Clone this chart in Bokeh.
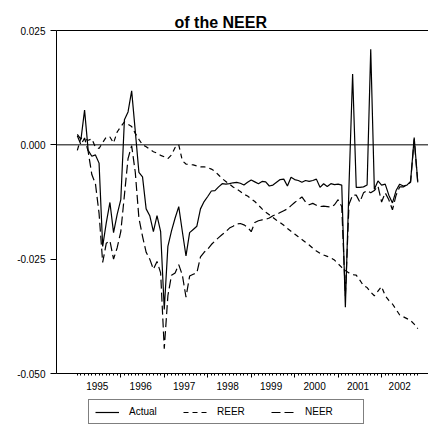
from bokeh.plotting import figure
from bokeh.layouts import column
from bokeh.models import (Range1d, LinearAxis, FixedTicker, Span, Legend, LegendItem,
                          ColumnDataSource)
from bokeh.embed import file_html
from bokeh.resources import INLINE

# ---- data (monthly, index 0 = Jan 1995) ----
months = list(range(95))
actual = [
    0.0023, 0.0012, 0.0076, -0.0012, -0.0025, -0.0022, -0.0040, -0.0222, -0.0170, -0.0126,
    -0.0192, -0.0152, -0.0120, 0.0055, 0.0072, 0.0118, 0.0030, -0.0060, -0.0070, -0.0140,
    -0.0155, -0.0190, -0.0155, -0.0190, -0.0360, -0.0222, -0.0188, -0.0160, -0.0135, -0.0190,
    -0.0243, -0.0192, -0.0185, -0.0178, -0.0140, -0.0124, -0.0113, -0.0101, -0.0100, -0.0092,
    -0.0085, -0.0086, -0.0085, -0.0083, -0.0082, -0.0084, -0.0088, -0.0082, -0.0077, -0.0081,
    -0.0085, -0.0080, -0.0081, -0.0090, -0.0088, -0.0082, -0.0076, -0.0075, -0.0090, -0.0071,
    -0.0076, -0.0078, -0.0082, -0.0078, -0.0080, -0.0078, -0.0075, -0.0093, -0.0085, -0.0091,
    -0.0085, -0.0087, -0.0086, -0.0088, -0.0355, -0.0090, 0.0155, -0.0093, -0.0093, -0.0092,
    -0.0088, 0.0209, -0.0097, -0.0079, -0.0088, -0.0086, -0.0110, -0.0127, -0.0100, -0.0086,
    -0.0090, -0.0088, -0.0080, 0.0016, -0.0082,
]
reer = [
    -0.0012, 0.0015, 0.0012, 0.0010, 0.0013, -0.0005, -0.0008, 0.0005, 0.0017, 0.0017,
    0.0004, 0.0028, 0.0040, 0.0050, 0.0045, 0.0040, 0.0025, 0.0012, 0.0000, -0.0004,
    -0.0010, -0.0015, -0.0018, -0.0023, -0.0026, -0.0030, -0.0022, -0.0006, 0.0000, -0.0035,
    -0.0042, -0.0043, -0.0044, -0.0046, -0.0048, -0.0048, -0.0050, -0.0053, -0.0058, -0.0066,
    -0.0074, -0.0080, -0.0086, -0.0092, -0.0097, -0.0102, -0.0108, -0.0112, -0.0118, -0.0124,
    -0.0132, -0.0140, -0.0147, -0.0153, -0.0159, -0.0165, -0.0170, -0.0176, -0.0183, -0.0189,
    -0.0195, -0.0201, -0.0207, -0.0213, -0.0219, -0.0226, -0.0232, -0.0237, -0.0241, -0.0244,
    -0.0247, -0.0252, -0.0260, -0.0268, -0.0275, -0.0280, -0.0284, -0.0285, -0.0296, -0.0308,
    -0.0312, -0.0322, -0.0330, -0.0320, -0.0310, -0.0330, -0.0340, -0.0348, -0.0360, -0.0372,
    -0.0376, -0.0380, -0.0384, -0.0392, -0.0402,
]
neer = [
    0.0020, 0.0000, 0.0015, -0.0015, -0.0065, -0.0085, -0.0150, -0.0257, -0.0215, -0.0210,
    -0.0250, -0.0225, -0.0190, -0.0110, -0.0030, -0.0002, -0.0060, -0.0160, -0.0200, -0.0235,
    -0.0250, -0.0272, -0.0255, -0.0280, -0.0446, -0.0330, -0.0285, -0.0280, -0.0262, -0.0285,
    -0.0333, -0.0287, -0.0283, -0.0280, -0.0245, -0.0235, -0.0228, -0.0218, -0.0210, -0.0203,
    -0.0196, -0.0190, -0.0182, -0.0178, -0.0173, -0.0172, -0.0175, -0.0180, -0.0190, -0.0170,
    -0.0166, -0.0164, -0.0163, -0.0160, -0.0155, -0.0152, -0.0148, -0.0144, -0.0140, -0.0133,
    -0.0126, -0.0120, -0.0114, -0.0125, -0.0131, -0.0128, -0.0132, -0.0135, -0.0134, -0.0135,
    -0.0136, -0.0131, -0.0120, -0.0135, -0.0330, -0.0130, -0.0110, -0.0110, -0.0125, -0.0105,
    -0.0100, -0.0105, -0.0100, -0.0090, -0.0125, -0.0105, -0.0120, -0.0142, -0.0110, -0.0092,
    -0.0092, -0.0088, -0.0082, 0.0012, -0.0085,
]
series_names = ["Actual", "REER", "NEER"]
year_labels = ["1995", "1996", "1997", "1998", "1999", "2000", "2001", "2002"]
year_label_pos = [5.5, 17.5, 29.5, 41.5, 53.5, 65.5, 77.5, 89.0]
year_starts = [12, 24, 36, 48, 60, 72, 84]
y_ticks = [0.025, 0.0, -0.025, -0.05]
y_tick_labels = ["0.025", "0.000", "-0.025", "-0.050"]

FONT = "Liberation Sans"

p = figure(width=428, height=395, output_backend="svg", toolbar_location=None,
           x_range=Range1d(-5.75, 96.95), y_range=Range1d(-0.050, 0.025),
           x_axis_type=None, min_border_left=56, min_border_right=0,
           min_border_top=30, min_border_bottom=22)
p.outline_line_color = None
p.background_fill_color = "white"
p.border_fill_color = "white"
p.grid.visible = False

# top frame line (axis without ticks/labels) - also lifts the title a little
ax_top = LinearAxis(ticker=FixedTicker(ticks=[]), axis_line_color="black",
                    major_tick_out=5, major_tick_in=0, major_tick_line_color=None,
                    minor_tick_line_color=None, major_label_text_font_size="0px",
                    major_label_standoff=0)
p.add_layout(ax_top, "above")

# title
p.title.text = "of the NEER"
p.title.text_font = FONT
p.title.text_font_style = "bold"
p.title.text_font_size = "16px"
p.title.align = "left"
p.title.offset = 118
p.title.standoff = 0
p.title.text_color = "black"

# y axis
ya = p.yaxis[0]
ya.ticker = FixedTicker(ticks=y_ticks)
ya.major_label_overrides = dict(zip(y_ticks, y_tick_labels))
ya.major_tick_out = 6
ya.major_tick_in = 0
ya.minor_tick_line_color = None
ya.axis_line_color = "black"
ya.major_tick_line_color = "black"
ya.major_label_text_font = FONT
ya.major_label_text_font_size = "10px"
ya.major_label_text_color = "black"
ya.major_label_standoff = 5

# x axis: tick marks (year boundaries major, months minor)
ax_ticks = LinearAxis(ticker=FixedTicker(ticks=year_starts, minor_ticks=months),
                      major_label_overrides={t: "" for t in year_starts},
                      major_label_text_font_size="0px", major_label_standoff=0,
                      major_tick_out=4, major_tick_in=0, minor_tick_out=2, minor_tick_in=0,
                      axis_line_color="black", major_tick_line_color="black",
                      minor_tick_line_color="black")
p.add_layout(ax_ticks, "below")
# x axis: year labels centred in each year
ax_labels = LinearAxis(ticker=FixedTicker(ticks=year_label_pos),
                       major_label_overrides=dict(zip(year_label_pos, year_labels)),
                       axis_line_color=None, major_tick_line_color=None,
                       minor_tick_line_color=None, major_tick_out=0, major_tick_in=0,
                       major_label_standoff=4, major_label_text_font=FONT,
                       major_label_text_font_size="10px", major_label_text_color="black")
p.add_layout(ax_labels, "below")

p.add_layout(Span(location=0.0, dimension="width", line_color="black", line_width=1))

src = ColumnDataSource(dict(m=months, actual=actual, reer=reer, neer=neer))
styles = [dict(), dict(line_dash="5 4"), dict(line_dash="9 4")]
cols = ["actual", "reer", "neer"]
for c, st in zip(cols, styles):
    p.line("m", c, source=src, line_color="black", line_width=1.2, **st)

# ---- legend strip (separate small figure below the chart) ----
lg = figure(width=428, height=35, output_backend="svg", toolbar_location=None,
            x_range=Range1d(1000, 1001), y_range=Range1d(1000, 1001),
            x_axis_type=None, y_axis_type=None, min_border=0)
lg.outline_line_color = None
lg.grid.visible = False
items = []
for c, st, name in zip(cols, styles, series_names):
    r = lg.line("m", c, source=src, line_color="black", line_width=1.2, **st)
    items.append(LegendItem(label=name, renderers=[r]))

legend = Legend(items=items, orientation="horizontal", location=(32, 6),
                border_line_color="black", border_line_width=1,
                background_fill_color="white", background_fill_alpha=1,
                padding=6, spacing=2, margin=0, glyph_width=24, glyph_height=10,
                label_standoff=10, label_width=52,
                label_text_font=FONT, label_text_font_size="10px",
                label_text_color="black")
lg.add_layout(legend)

layout = column(p, lg, spacing=0)
open("out.html", "w").write(file_html(layout, INLINE))
